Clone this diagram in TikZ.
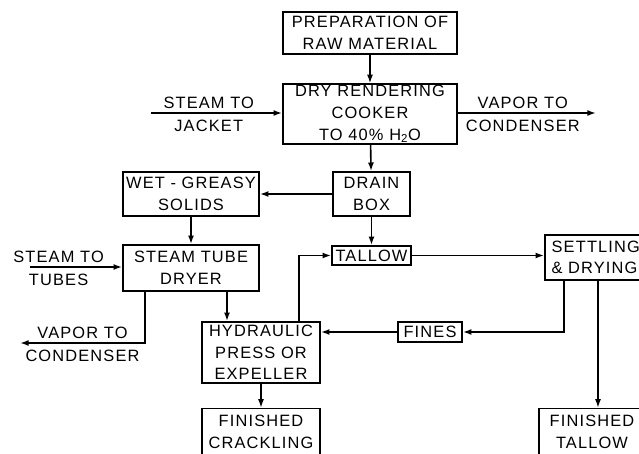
\documentclass[tikz,border=0pt]{standalone}
\usepackage{fontspec}
\setmainfont{Liberation Sans}[LetterSpace=7]
\usepackage{tikz}
\usetikzlibrary{arrows.meta}

\begin{document}
\begin{tikzpicture}[x=0.03cm, y=-0.03cm,
    process/.style={rectangle, draw=black, line width=1.4pt,
                    align=center, inner sep=1pt,
                    font=\fontsize{14}{18.5}\selectfont},
    stream/.style={font=\fontsize{14}{18}\selectfont, inner sep=2pt},
    arrow/.style={-{Latex[length=2.6mm, width=1.8mm]}, line width=1.4pt}
]
\useasboundingbox (0,0) rectangle (639,454);
\clip (0,0) rectangle (639,454);

\node (prep)    [process, minimum width=5.22cm, minimum height=1.26cm] at (370,33)    {PREPARATION OF\\RAW MATERIAL};
\node (cooker)  [process, minimum width=5.22cm, minimum height=1.68cm] at (370,114)   {DRY RENDERING\\COOKER\\TO 40\% H\textsubscript{2}O};
\node (wet)     [process, minimum width=4.08cm, minimum height=1.32cm] at (191,194)   {WET - GREASY\\SOLIDS};
\node (drain)   [process, minimum width=2.31cm, minimum height=1.32cm] at (371.5,194) {DRAIN\\BOX};
\node (dryer)   [process, minimum width=4.08cm, minimum height=1.38cm] at (191,268)   {STEAM TUBE\\DRYER};
\node (tallow)  [process, minimum width=2.37cm, minimum height=0.57cm] at (371.5,255.5) {TALLOW};
\node (settle)  [process, text width=3.2cm, align=left, inner xsep=0.2cm,
                 minimum height=1.35cm] at (605,257.5) {SETTLING\\\& DRYING};
\node (fines)   [process, minimum width=1.92cm, minimum height=0.6cm]  at (430,332)   {FINES};
\node (hydr)    [process, minimum width=3.54cm, minimum height=1.83cm] at (261,352.5) {HYDRAULIC\\PRESS OR\\EXPELLER};
\node (crack)   [process, minimum width=3.54cm, minimum height=1.4cm]  at (261,432)   {FINISHED\\CRACKLING};
\node (ftallow) [process, minimum width=3.18cm, minimum height=1.4cm]  at (592,432)   {FINISHED\\TALLOW};

% free ends and side outlets
\coordinate (jacketin)   at (151,113);
\coordinate (vaporout)   at (596,113);
\coordinate (tubesin)    at (30,267);
\coordinate (vaporlow)   at (20,343);
\coordinate (ventout)    at ([xshift=-1.38cm]dryer.south);
\coordinate (dryout)     at ([xshift=1.08cm]dryer.south);
\coordinate (pressup)    at ([xshift=1.14cm]hydr.north);
\coordinate (settleout)  at ([xshift=0.6cm]settle.south west);
\coordinate (settledown) at ([xshift=-0.21cm]settle.south);

\draw [arrow] (prep)   -- (cooker);
\draw [arrow] (cooker) -- (drain);
\draw [arrow] (drain)  -- (wet);
\draw [arrow] (wet)    -- (dryer);
\draw [arrow] (drain)  -- (tallow);
\draw [arrow] (tallow.east) -- (tallow.east -| settle.west);
\draw [arrow] (dryout) -- (dryout |- hydr.north);
\draw [arrow] (hydr)   -- (crack);
\draw [arrow] (pressup) |- (tallow.west);
\draw [arrow] (settleout) |- (fines.east);
\draw [arrow] (fines.west) -- (fines.west -| hydr.east);
\draw [arrow] (settledown) -- (settledown |- ftallow.north);

\draw [arrow] (jacketin) -- node (jkt1) [stream, above=1pt, pos=0.44] {STEAM TO}
                            node (jkt2) [stream, below=3pt, pos=0.44] {JACKET}
              (jacketin -| cooker.west);
\draw [arrow] (vaporout -| cooker.east) -- node (vap1) [stream, above=1pt, pos=0.47] {VAPOR TO}
                                           node (vap2) [stream, below=3pt, pos=0.47] {CONDENSER}
              (vaporout);
\draw [arrow] (tubesin) -- node (tub1) [stream, above=1pt, pos=0.31] {STEAM TO}
                           node (tub2) [stream, below=3pt, pos=0.31] {TUBES}
              (tubesin -| dryer.west);
\draw [arrow] (ventout) |- node (low1) [stream, above=1pt, pos=0.75] {VAPOR TO}
                           node (low2) [stream, below=3pt, pos=0.75] {CONDENSER}
              (vaporlow);
\end{tikzpicture}
\end{document}
